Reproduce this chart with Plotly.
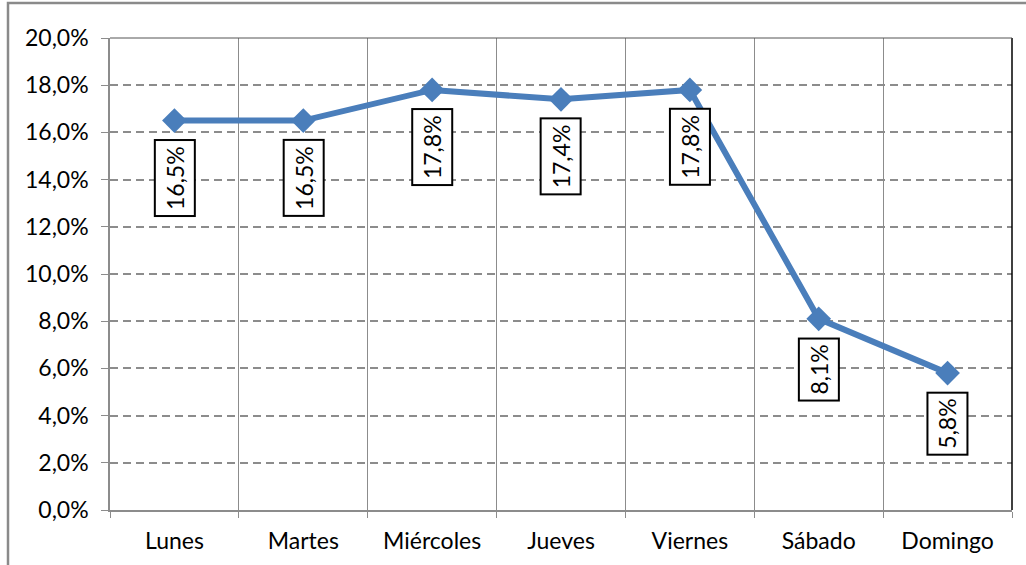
import plotly.graph_objects as go

dias = ["Lunes", "Martes", "Miércoles", "Jueves", "Viernes", "Sábado", "Domingo"]
valores = [16.5, 16.5, 17.8, 17.4, 17.8, 8.1, 5.8]
etiquetas = ["16,5%", "16,5%", "17,8%", "17,4%", "17,8%", "8,1%", "5,8%"]

FONT = "Lato"
FS = 23
GRID = "#8c8c8c"

fig = go.Figure()
fig.add_trace(go.Scatter(
    x=dias, y=valores, mode="lines+markers",
    line=dict(color="#4A7EBB", width=6),
    marker=dict(symbol="diamond", size=19, color="#4A7EBB"),
    hoverinfo="skip", showlegend=False,
))

for d, v, t in zip(dias, valores, etiquetas):
    fig.add_annotation(
        x=d, y=v, text=t, showarrow=False, textangle=-90,
        xanchor="center", yanchor="middle", yshift=-57 if len(t) > 4 else -51,
        font=dict(family=FONT, size=FS, color="black"),
        bgcolor="white", bordercolor="black", borderwidth=2, borderpad=5,
    )

# outer chart border
fig.add_shape(type="rect", xref="paper", yref="paper",
              x0=(8 - 110) / 902, x1=(1040 - 110) / 902,
              y0=(510 - 580) / 472, y1=(510 - 3) / 472,
              line=dict(color="#8a8a8a", width=2.5), layer="below")
# right and top edges of plot area
fig.add_shape(type="line", xref="paper", yref="paper", x0=1, x1=1, y0=0, y1=1,
              line=dict(color="black", width=1.5))
fig.add_shape(type="line", xref="paper", yref="paper", x0=0, x1=1, y0=1, y1=1,
              line=dict(color="#555555", width=1))

fig.update_layout(
    width=1026, height=565,
    margin=dict(l=110, r=14, t=38, b=55),
    paper_bgcolor="white", plot_bgcolor="white",
    separators=",.",
    font=dict(family=FONT, size=FS, color="black"),
    xaxis=dict(
        type="category", tickson="boundaries", showgrid=True,
        gridcolor=GRID, gridwidth=1,
        showline=True, linecolor=GRID, linewidth=1.5,
        ticks="outside", ticklen=6, tickcolor=GRID,
        range=[-0.5, 6.5], tickfont=dict(size=FS), ticklabelstandoff=10,
    ),
    yaxis=dict(
        range=[0, 20], dtick=2, tick0=0, tickformat=".1f", ticksuffix="%",
        showgrid=True, gridcolor=GRID, gridwidth=1.5, griddash="8px,5px",
        showline=True, linecolor=GRID, linewidth=1.5,
        ticks="outside", ticklen=7, tickcolor=GRID,
        zeroline=False, tickfont=dict(size=FS), ticklabelstandoff=8,
    ),
)

fig.write_html("out.html")
